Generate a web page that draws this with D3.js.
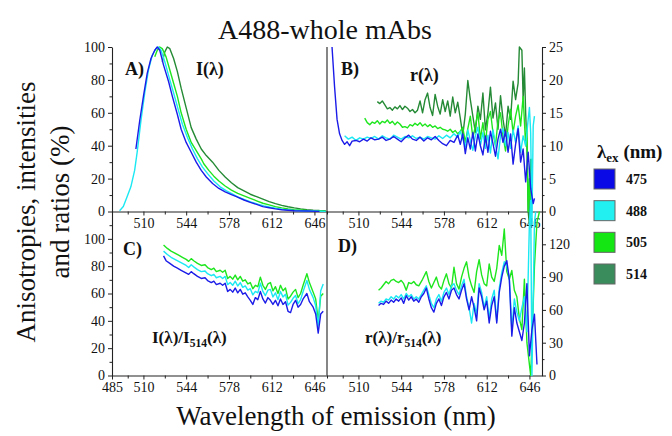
<!DOCTYPE html>
<html><head><meta charset="utf-8">
<script src="https://cdn.jsdelivr.net/npm/d3@7"></script>
<style>
body{margin:0;background:#fff}
svg{display:block}
text{font-family:"Liberation Serif","Times New Roman",serif;fill:#111}
</style>
</head><body>
<svg id="chart" width="672" height="436"></svg>
<script>
// Excitation wavelengths (legend) and their colours
const excitations = ["475", "488", "505", "514"];
const lineColors = ["#1c1ce8", "#1ae8f2", "#1ee61e", "#258a35"];
const boxColors = ["#0a0ae6", "#22f0f0", "#14e614", "#3a8c5c"];

// Wavelength ticks (nm)
const xLabelsTop = [510, 544, 578, 612, 646];
const xLabelsBottomLeft = [485, 510, 544, 578, 612, 646];
const xMinor = [485, 497.5, 527, 561, 595, 629];

// A) normalised emission intensity I(λ), % — [nm, value]
const intensity475 = [[504,38],[507,55],[510,70],[513,84],[516,93],[519,98],[521,100],[523,98],[526,89],[530,79],[533,70],[537,59],[540,50],[544,42],[548,36],[552,30],[556,25],[560,21],[565,17],[570,14],[575,12],[580,10.2],[584,9],[590,7],[595,5.5],[600,4.3],[605,3],[610,2.3],[615,1.6],[620,1.1],[625,0.8],[630,0.5],[640,0.3],[650,0.1]];
const intensity488 = [[491,0.5],[494,3],[497,9],[500,15],[503,25],[505,36],[508,55],[511,72],[514,86],[517,95],[520,99],[522,100],[524,98],[527,91],[531,80],[534,72],[538,61],[541,53],[545,45],[549,38],[553,32],[557,27],[561,23],[566,18.5],[571,15],[576,12.5],[581,10.5],[586,8.5],[591,7],[596,5.7],[601,4.5],[606,3.4],[611,2.6],[616,1.9],[621,1.3],[628,0.8],[636,0.5],[645,0.3],[655,0.1]];
const intensity505 = [[519,94],[521,98],[523,100],[525,99],[528,94],[531,86],[534,78],[537,70],[540,60],[544,50],[548,42],[552,37],[556,32],[558,29],[562,25],[566,21.5],[570,18.5],[575,15.5],[580,13],[585,11],[590,9.5],[595,8],[600,6.5],[605,5],[610,4],[615,3],[620,2.2],[625,1.6],[630,1.1],[640,0.6],[650,0.3],[655,0.2]];
const intensity514 = [[525,91],[527,97],[529,100],[531,99],[534,93],[537,85],[540,75],[544,63],[548,51],[552,44],[556,38],[560,34],[565,30],[570,25],[575,21],[580,17.5],[585,14.5],[590,12.5],[595,10.5],[600,9],[605,7.5],[610,6],[615,4.8],[620,3.7],[625,2.9],[630,2.2],[635,1.6],[640,1.1],[645,0.8],[650,0.6],[655,0.5]];

// B) anisotropy r(λ), %
const aniso475 = [[489,25],[491,19],[493,14],[495,11.8],[497,10.8],[499,10.2],[501,10.6],[503,10.0],[505,10.7],[508,10.8],[511,10.6],[514,11.0],[517,10.7],[520,11.2],[523,10.9],[526,11.0],[529,11.3],[532,10.8],[535,11.0],[538,11.4],[541,11.0],[544,10.6],[547,11.2],[550,11.6],[553,11.0],[556,10.8],[559,11.3],[562,10.7],[565,11.2],[568,10.9],[571,11.4],[574,10.8],[577,10.3],[580,10.0],[583,10.8],[586,10.5],[589,11.6],[591,10.2],[593,11.8],[595,8.8],[597,11.2],[599,9.5],[601,12.0],[603,9.2],[605,11.8],[607,10.0],[609,8.6],[611,11.5],[613,9.0],[615,12.2],[617,10.3],[619,8.4],[621,11.0],[623,12.5],[625,10.5],[627,12.2],[629,9.0],[631,11.8],[633,7.2],[635,10.2],[637,12.6],[639,7.5],[641,9.5],[643,4.5],[645,9.0],[647,3.5],[649,1.2],[650,2]];
const aniso488 = [[499,11.5],[502,11.0],[505,11.3],[508,10.8],[511,11.2],[514,11.0],[517,11.3],[520,11.1],[523,11.4],[526,11.0],[529,11.5],[532,11.2],[535,11.0],[538,11.6],[541,11.3],[544,11.0],[547,11.4],[550,11.2],[553,11.5],[556,11.1],[559,11.3],[562,11.0],[565,11.4],[568,11.2],[571,11.0],[574,11.5],[577,11.1],[580,11.6],[583,11.2],[586,11.8],[589,11.3],[591,12.2],[593,11.0],[595,9.8],[597,12.4],[599,10.8],[601,9.3],[603,11.5],[605,12.8],[607,10.0],[609,12.0],[611,9.6],[613,11.6],[615,8.9],[617,12.4],[619,10.2],[621,8.0],[623,11.5],[625,12.6],[627,10.0],[629,12.0],[631,9.6],[633,12.4],[635,10.5],[637,13.0],[639,9.0],[641,11.5],[643,10.0],[645,14.0],[646,15.8],[647,12],[648,-2],[649,13],[650,14.5]];
const aniso505 = [[515,14.2],[517,13.5],[519,13.2],[521,13.6],[523,13.4],[525,13.8],[527,13.3],[529,13.7],[531,13.5],[533,13.9],[535,13.4],[537,13.7],[539,13.2],[541,13.6],[543,13.3],[545,12.8],[547,12.9],[549,12.7],[551,13.2],[553,13.0],[555,13.4],[557,13.1],[559,13.5],[561,13.0],[563,13.3],[565,12.9],[567,13.2],[569,12.8],[571,13.0],[573,12.6],[575,12.8],[577,12.5],[579,12.4],[581,12.2],[583,12.5],[585,12.0],[587,12.3],[589,11.8],[591,12.2],[593,12.8],[595,10.5],[597,12.6],[599,14.5],[601,11.2],[603,13.0],[605,15.0],[607,11.0],[609,13.5],[611,10.4],[613,14.0],[615,15.2],[617,12.0],[619,10.0],[621,13.8],[623,15.0],[625,11.5],[627,9.2],[629,13.0],[631,15.5],[633,12.0],[635,14.5],[637,16.2],[639,13.0],[641,17.5],[643,10.0],[644,13],[645,0],[646,5],[647,0],[648,8]];
const aniso514 = [[525,16.7],[527,16.4],[529,16.8],[531,16.2],[533,15.6],[535,15.8],[537,15.4],[539,15.9],[541,15.6],[543,16.1],[545,15.5],[547,16.0],[549,15.7],[551,15.2],[553,15.5],[555,15.0],[557,15.4],[559,16.8],[561,15.0],[563,17.0],[565,18.0],[567,15.8],[569,14.6],[571,17.8],[573,16.0],[575,14.8],[577,17.0],[579,15.2],[581,16.8],[583,14.5],[585,17.4],[587,15.0],[589,16.6],[591,14.2],[593,11.6],[595,14.8],[597,19.9],[599,17.0],[601,14.5],[603,12.0],[605,16.0],[607,14.0],[609,18.0],[611,12.4],[613,15.0],[615,18.9],[617,14.2],[619,16.5],[621,12.5],[623,17.6],[625,14.0],[627,11.5],[629,16.0],[631,14.0],[633,19.8],[635,17.0],[637,19.5],[638,25],[640,24.5],[641,17],[642,21.8],[643,15],[644,10],[645,0],[646,-2],[647,8]];

// C) intensity ratio I(λ)/I514(λ), %
const ratioI475 = [[526,87.5],[528,84],[531,82],[534,80],[537,78.5],[540,77],[543,75.5],[546,74],[548,76],[550,74.5],[553,72.5],[556,71],[559,71.5],[561,69.5],[564,68],[566,69],[568,66.5],[571,67.5],[573,66],[575,67.5],[577,61.5],[579,63],[581,61],[583,64],[585,60.5],[587,63],[589,59.5],[591,60.5],[593,57.5],[595,55],[597,52],[599,57],[601,55.5],[603,61.5],[605,56],[607,53],[609,57],[611,55],[613,52],[615,55],[617,51],[619,56],[621,52],[623,54],[625,47],[627,46],[629,52],[631,55],[633,50],[635,52],[637,56],[640,60],[642,54],[645,50],[647,45],[649,31],[651,45],[653,47]];
const ratioI488 = [[526,91],[529,88.5],[532,86.5],[535,85],[538,83.5],[541,82],[544,80.5],[546,79],[548,81],[550,79.5],[553,77.5],[556,76],[559,76.5],[561,74.5],[564,73],[566,74],[568,71.5],[571,72.5],[573,71],[575,72.5],[577,66.5],[579,68],[581,66],[583,69],[585,65.5],[587,68],[589,64.5],[591,65.5],[593,62.5],[595,63.5],[597,59],[599,61.5],[601,60.5],[603,67.5],[605,61.5],[607,58.5],[609,62.5],[611,63],[613,57.5],[615,60.5],[617,55.5],[619,61.5],[621,57.5],[623,59.5],[625,51.5],[627,53.5],[629,56.5],[631,58.5],[633,52.5],[635,55.5],[637,61.5],[640,69.5],[642,63],[645,57],[647,51],[649,36],[651,62],[653,67]];
const ratioI505 = [[526,95.5],[529,93],[532,91],[535,89.5],[538,88],[541,86.5],[544,85],[546,83.5],[548,85.5],[550,84],[553,82],[556,80.5],[559,81],[561,79],[564,77.5],[566,78.5],[568,76],[571,77],[573,75.5],[575,77],[577,71],[579,72.5],[581,70.5],[583,73.5],[585,70],[587,72.5],[589,69],[591,70],[593,67],[595,68],[597,63.5],[599,66],[601,65],[603,72],[605,66],[607,63],[609,67],[611,68],[613,62],[615,65],[617,60],[619,66],[621,62],[623,64],[625,56],[627,58],[629,61],[631,63],[633,57],[635,60],[637,66],[640,74.5],[642,68],[645,61],[647,56],[649,40],[651,58],[653,60]];

// D) anisotropy ratio r(λ)/r514(λ), %
const ratioR475 = [[526,64],[528,66],[530,65],[532,68],[534,66],[536,69],[538,67],[540,70],[542,68],[544,71],[546,66],[548,73],[550,69],[552,72],[554,68],[556,70],[558,67],[560,72],[562,75],[564,80],[566,70],[568,62],[570,58],[572,66],[574,70],[576,64],[578,72],[580,76],[582,70],[584,78],[586,80],[588,74],[590,70],[592,78],[594,84],[596,70],[598,60],[600,72],[602,62],[604,50],[606,80],[608,72],[610,60],[612,68],[614,48],[616,64],[618,72],[620,48],[622,76],[624,90],[626,100],[628,105],[630,88],[632,36],[634,62],[636,48],[638,40],[640,32],[642,48],[644,84],[646,18],[648,42],[650,56],[652,10]];
const ratioR488 = [[526,66],[528,68],[530,67],[532,70],[534,69],[536,72],[538,70],[540,73],[542,71],[544,74],[546,70],[548,75],[550,72],[552,74],[554,70],[556,72],[558,70],[560,74],[562,78],[564,82],[566,74],[568,66],[570,62],[572,70],[574,74],[576,68],[578,76],[580,80],[582,74],[584,82],[586,84],[588,78],[590,74],[592,82],[594,88],[596,72],[598,62],[600,48],[602,66],[604,56],[606,84],[608,76],[610,62],[612,72],[614,52],[616,70],[618,78],[620,50],[622,80],[624,94],[626,104],[628,100],[630,90],[632,42],[634,70],[636,58],[638,50],[640,62],[642,72],[644,40],[646,140],[647,160],[648,0],[650,140],[651,150]];
const ratioR505 = [[526,78],[528,80],[530,83],[532,86],[534,84],[536,87],[538,88],[540,86],[542,85],[544,87],[546,84],[548,78],[550,85],[552,84],[554,86],[556,83],[558,82],[561,88],[564,95],[566,86],[568,80],[570,85],[572,90],[574,82],[576,79],[578,87],[580,93],[582,84],[584,80],[586,99],[588,84],[590,79],[592,90],[594,98],[596,104],[598,90],[600,82],[602,76],[604,95],[606,106],[608,92],[610,84],[612,82],[614,102],[616,90],[618,86],[620,98],[622,119],[624,110],[626,134],[628,95],[630,88],[632,96],[634,78],[636,72],[638,52],[640,42],[642,88],[644,30],[646,10],[647,0],[648,30],[650,100],[652,140],[654,150]];

const svg = d3.select("#chart");

// Panel geometry
const colL = [112, 327], colR = [327, 542];
const rowTop = [211.5, 47], rowBot = [375.5, 211.5];
const xLeft = d3.scaleLinear().domain([485, 656]).range(colL);
const xRight = d3.scaleLinear().domain([485, 656]).range(colR);
const yA = d3.scaleLinear().domain([0, 100]).range(rowTop);
const yB = d3.scaleLinear().domain([0, 25]).range(rowTop);
const yC = d3.scaleLinear().domain([0, 120]).range(rowBot);
const yD = d3.scaleLinear().domain([0, 150]).range(rowBot);

function styleAxis(g) {
  g.selectAll("path.domain").attr("stroke", "#222").attr("stroke-width", 1.1);
  g.selectAll(".tick line").attr("stroke", "#222").attr("stroke-width", 1);
  g.selectAll(".tick text").attr("font-size", 14).attr("fill", "#111")
    .attr("font-family", '"Liberation Serif","Times New Roman",serif');
}

function addAxis(axisFn, scale, transform, major, minor, minorSize) {
  const g = svg.append("g").attr("transform", transform);
  g.call(axisFn(scale).tickValues(major).tickSize(4).tickPadding(3).tickSizeOuter(0));
  styleAxis(g);
  const gm = svg.append("g").attr("transform", transform);
  gm.call(axisFn(scale).tickValues(minor).tickSize(minorSize).tickFormat(""));
  gm.select("path.domain").remove();
  styleAxis(gm);
  return g;
}

// y axes
addAxis(d3.axisLeft, yA, "translate(112,0)", [0, 20, 40, 60, 80, 100], [10, 30, 50, 70, 90], 2.5);
addAxis(d3.axisLeft, yC, "translate(112,0)", [0, 20, 40, 60, 80, 100], [10, 30, 50, 70, 90, 110], 2.5);
addAxis(d3.axisRight, yB, "translate(542,0)", [0, 5, 10, 15, 20, 25], [2.5, 7.5, 12.5, 17.5, 22.5], 2.5);
addAxis(d3.axisRight, yD, "translate(542,0)", [0, 30, 60, 90, 120], [15, 45, 75, 105, 135], 2.5);

// x axes
addAxis(d3.axisBottom, xLeft, "translate(0,211.5)", xLabelsTop, xMinor, 3);
addAxis(d3.axisBottom, xRight, "translate(0,211.5)", xLabelsTop, xMinor, 3);
addAxis(d3.axisBottom, xLeft, "translate(0,375.5)", xLabelsBottomLeft, xMinor.slice(1), 3);
addAxis(d3.axisBottom, xRight, "translate(0,375.5)", xLabelsTop, xMinor, 3);

// central divider
svg.append("line").attr("x1", 327).attr("x2", 327).attr("y1", 47).attr("y2", 375.5)
  .attr("stroke", "#222").attr("stroke-width", 1.1);

// series lines (514 drawn first so 475 sits on top)
function drawSeries(list, x, y) {
  const line = d3.line().x(d => x(d[0])).y(d => y(d[1]));
  d3.range(list.length).reverse().forEach(i => {
    svg.append("path").datum(list[i]).attr("d", line)
      .attr("fill", "none").attr("stroke", lineColors[i])
      .attr("stroke-width", 1.4).attr("stroke-linejoin", "round");
  });
}
drawSeries([intensity475, intensity488, intensity505, intensity514], xLeft, yA);
drawSeries([aniso475, aniso488, aniso505, aniso514], xRight, yB);
drawSeries([ratioI475, ratioI488, ratioI505], xLeft, yC);
drawSeries([ratioR475, ratioR488, ratioR505], xRight, yD);

// panel labels
function label(x, y, size, parts) {
  const t = svg.append("text").attr("x", x).attr("y", y).attr("font-size", size).attr("font-weight", "bold");
  parts.forEach(p => {
    const s = t.append("tspan").text(p.t);
    if (p.sub) s.attr("font-size", size * 0.68).attr("dy", 4);
    if (p.up) s.attr("dy", -4);
  });
  return t;
}
label(125, 75, 18, [{t: "A)"}]);
label(196, 75, 18, [{t: "I(λ)"}]);
label(341, 75, 18, [{t: "B)"}]);
label(410, 81, 18, [{t: "r(λ)"}]);
label(123, 255, 18, [{t: "C)"}]);
label(152, 343, 17, [{t: "I(λ)/I"}, {t: "514", sub: true}, {t: "(λ)", up: true}]);
label(338, 252, 18, [{t: "D)"}]);
label(365, 343, 17, [{t: "r(λ)/r"}, {t: "514", sub: true}, {t: "(λ)", up: true}]);

// titles
svg.append("text").attr("x", 325).attr("y", 39).attr("text-anchor", "middle")
  .attr("font-size", 28).text("A488-whole mAbs");
svg.append("text").attr("x", 336).attr("y", 425).attr("text-anchor", "middle")
  .attr("font-size", 27).text("Wavelength of emission (nm)");
svg.append("text").attr("transform", "translate(35,212) rotate(-90)").attr("text-anchor", "middle")
  .attr("font-size", 27).text("Anisotropies, intensities");
svg.append("text").attr("transform", "translate(69,202) rotate(-90)").attr("text-anchor", "middle")
  .attr("font-size", 27).text("and ratios (%)");

// legend
const lt = svg.append("text").attr("x", 597).attr("y", 158).attr("font-size", 19).attr("font-weight", "bold");
lt.append("tspan").text("λ");
lt.append("tspan").text("ex").attr("font-size", 13).attr("dy", 4);
lt.append("tspan").text(" (nm)").attr("dy", -4);

const legY = d3.scalePoint().domain(excitations).range([169, 264]);
const leg = svg.append("g").selectAll("g").data(excitations).join("g")
  .attr("transform", d => `translate(594,${legY(d)})`);
leg.append("rect").attr("width", 21).attr("height", 20)
  .attr("fill", (d, i) => boxColors[i]).attr("stroke", "#666").attr("stroke-width", 1);
leg.append("text").attr("x", 32).attr("y", 15).attr("font-size", 14).attr("font-weight", "bold").text(d => d);
</script>
</body></html>
